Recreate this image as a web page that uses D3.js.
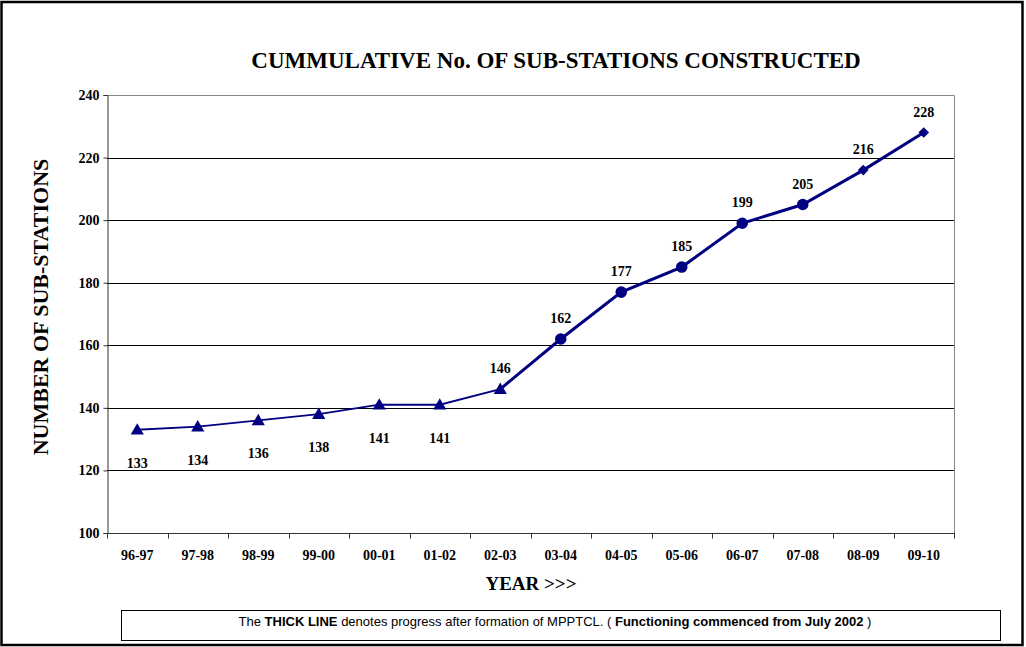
<!DOCTYPE html>
<style>
  body{ margin:0; background:#fff; }
  text{ font-family:'Liberation Serif','Times New Roman',serif; font-weight:bold; fill:#000; }
  .note{ font-family:'Liberation Sans',Arial,sans-serif; font-weight:normal; }
</style>
<svg id='chart' width='1026' height='647'></svg>
<script src="https://d3js.org/d3.v7.min.js"></script>
<script>
var years = ['96-97','97-98','98-99','99-00','00-01','01-02','02-03','03-04','04-05','05-06','06-07','07-08','08-09','09-10']
var stations = [133,134,136,138,141,141,146,162,177,185,199,205,216,228]
var markers = ['triangle','triangle','triangle','triangle','triangle','triangle','triangle','circle','circle','circle','circle','circle','diamond','diamond']
var yTicks = [100,120,140,160,180,200,220,240]

var margin = {top: 95, left: 107, right: 954, bottom: 533},
    navy = '#000080',
    thickFrom = 6   // MPPTCL formed, July 2002

var svg = d3.select('#chart')

// outer frame
svg.append('rect')
  .attr('x', 1.5).attr('y', 2).attr('width', 1021).attr('height', 643)
  .attr('fill', 'none').attr('stroke', '#000').attr('stroke-width', 2.5)

var x = d3.scaleBand().domain(years).range([margin.left, margin.right])
var y = d3.scaleLinear().domain([100, 240]).range([margin.bottom, margin.top])

// grid
svg.append('g').selectAll('line')
  .data(yTicks.slice(1, -1))
  .enter().append('line')
  .attr('x1', margin.left).attr('x2', margin.right)
  .attr('y1', d => Math.round(y(d)) + .5).attr('y2', d => Math.round(y(d)) + .5)
  .attr('stroke', '#000')

// plot box top & right
svg.append('path')
  .attr('d', `M${margin.left},${margin.top + .5}H${margin.right + .5}V${margin.bottom}`)
  .attr('fill', 'none').attr('stroke', '#888')

// y axis
var yAxis = svg.append('g')
  .attr('transform', `translate(${margin.left + .5},0)`)
  .call(d3.axisLeft(y).tickValues(yTicks).tickSize(4).tickPadding(4))
yAxis.select('.domain').attr('stroke', '#333')
yAxis.selectAll('.tick line').attr('stroke', '#333')
yAxis.selectAll('text').style('font-size', '14px').attr('fill', '#000')

// x axis, ticks between categories
var xAxis = svg.append('g')
  .attr('transform', `translate(0,${margin.bottom + .5})`)
xAxis.append('line')
  .attr('x1', margin.left).attr('x2', margin.right + 1)
  .attr('stroke', '#333')
xAxis.selectAll('.tk')
  .data(years.concat(['end']))
  .enter().append('line')
  .attr('x1', (d, i) => Math.round(margin.left + i * x.step()) + .5)
  .attr('x2', (d, i) => Math.round(margin.left + i * x.step()) + .5)
  .attr('y1', 0).attr('y2', 5)
  .attr('stroke', '#333')
xAxis.selectAll('.lbl')
  .data(years)
  .enter().append('text')
  .attr('x', d => x(d) + x.bandwidth() / 2)
  .attr('y', 26)
  .attr('text-anchor', 'middle')
  .style('font-size', '14px')
  .text(d => d)

var pts = years.map((d, i) => ({year: d, v: stations[i], m: markers[i], i: i}))
var line = d3.line().x(d => x(d.year) + x.bandwidth() / 2).y(d => y(d.v))

svg.append('path')
  .datum(pts.slice(0, thickFrom + 1))
  .attr('d', line)
  .attr('fill', 'none').attr('stroke', navy).attr('stroke-width', 1.8)

svg.append('path')
  .datum(pts.slice(thickFrom))
  .attr('d', line)
  .attr('fill', 'none').attr('stroke', navy).attr('stroke-width', 3)

var shapes = {
  triangle: d3.symbol().type(d3.symbolTriangle).size(75),
  circle: d3.symbol().type(d3.symbolCircle).size(105),
  diamond: d3.symbol().type(d3.symbolDiamond2).size(72)
}

svg.append('g').selectAll('path')
  .data(pts)
  .enter().append('path')
  .attr('transform', d => `translate(${x(d.year) + x.bandwidth() / 2},${y(d.v) + (d.m == 'triangle' ? 1 : 0)})`)
  .attr('d', d => shapes[d.m]())
  .attr('fill', navy)

// value labels: below for the early (pre-MPPTCL) years, above afterwards
svg.append('g').selectAll('text')
  .data(pts)
  .enter().append('text')
  .attr('x', d => x(d.year) + x.bandwidth() / 2)
  .attr('y', d => d.i < thickFrom ? y(d.v) + 38 : y(d.v) - 16)
  .attr('text-anchor', 'middle')
  .style('font-size', '14px')
  .text(d => d.v)

// titles
svg.append('text')
  .attr('x', 556).attr('y', 68)
  .attr('text-anchor', 'middle')
  .style('font-size', '23px')
  .text('CUMMULATIVE No. OF SUB-STATIONS CONSTRUCTED')

svg.append('text')
  .attr('transform', 'translate(48,307) rotate(-90)')
  .attr('text-anchor', 'middle')
  .style('font-size', '22px')
  .text('NUMBER OF SUB-STATIONS')

svg.append('text')
  .attr('x', 531).attr('y', 590)
  .attr('text-anchor', 'middle')
  .style('font-size', '19px')
  .text('YEAR >>>')

// footnote box
svg.append('rect')
  .attr('x', 121.5).attr('y', 610.5).attr('width', 879).attr('height', 30)
  .attr('fill', '#fff').attr('stroke', '#000')

var note = svg.append('text')
  .attr('class', 'note')
  .attr('x', 555).attr('y', 626)
  .attr('text-anchor', 'middle')
  .style('font-size', '13px')
note.append('tspan').text('The ')
note.append('tspan').style('font-weight', 'bold').text('THICK LINE')
note.append('tspan').text(' denotes progress after formation of MPPTCL. ( ')
note.append('tspan').style('font-weight', 'bold').text('Functioning commenced from July 2002')
note.append('tspan').text(' )')
</script>
